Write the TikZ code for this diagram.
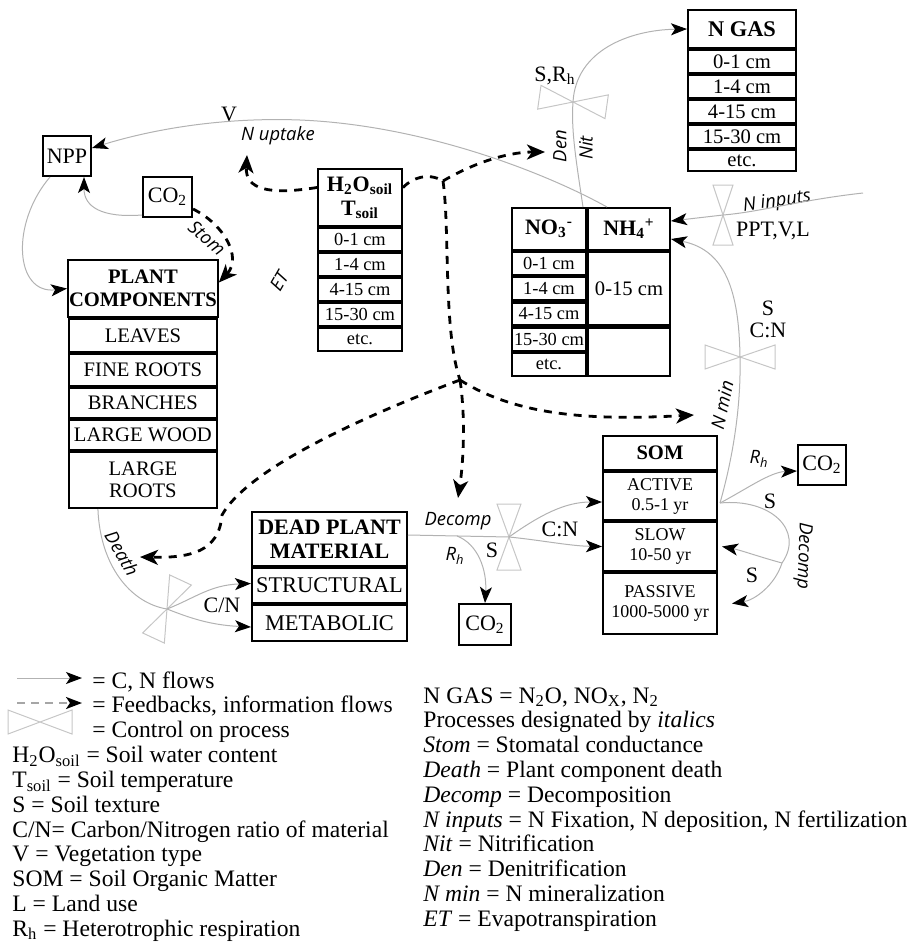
\documentclass[tikz,border=0pt]{standalone}
\usepackage{fontspec}
\setmainfont{Liberation Serif}
\newfontfamily\procfont{Open Sans}
\usepackage{tikz}
\usetikzlibrary{positioning,arrows.meta,calc}
\tikzstyle{cell} = [rectangle, draw, line width=1.1pt, inner sep=0.5pt, %
   text centered, align=center, font=\fontsize{10.3}{11.2}\selectfont]
\tikzstyle{head} = [cell, font=\bfseries\fontsize{10.3}{11.5}\selectfont]
\tikzstyle{depth} = [cell, font=\fontsize{9.2}{10}\selectfont]
\tikzstyle{somcell} = [cell, font=\fontsize{9}{10}\selectfont]
\tikzstyle{box} = [cell, font=\fontsize{11}{12}\selectfont]
\tikzstyle{grayline} = [draw, gray!60, line width=0.5pt]
\tikzstyle{flow} = [grayline, -{Stealth[black, length=8pt, width=6pt, inset=2pt]}]
\tikzstyle{fbline} = [draw, black, line width=1.4pt, dash pattern=on 4pt off 3.5pt]
\tikzstyle{feedback} = [fbline, -{Stealth[length=9pt, width=7.5pt, inset=2.5pt]}]
\tikzstyle{keydash} = [draw, gray!70, line width=1pt, dash pattern=on 4pt off 3pt, %
   -{Stealth[black, length=8pt, width=6pt, inset=2pt]}]
\tikzstyle{valveline} = [draw, gray!45, line width=0.5pt]
\tikzstyle{proc} = [inner sep=1pt, font=\procfont\itshape\fontsize{9.2}{10}\selectfont]
\tikzstyle{ctrl} = [inner sep=1pt, font=\fontsize{11}{12}\selectfont]
\tikzstyle{key} = [inner sep=0pt, anchor=north west, align=left, %
   font=\fontsize{11.8}{12.4}\selectfont]
\newcommand{\valve}[4]{%
   \path[valveline, shift={#1}, rotate=#2] (-#3,-#4) -- (#3,#4) -- (#3,-#4) -- (-#3,#4) -- cycle;}

\begin{document}
\begin{tikzpicture}[x=0.5pt, y=-0.5pt]
   \useasboundingbox (0,0) rectangle (911,943);

% Plant side %%%%%%%%%%%%%%%%%%%%%%%%%%%%%%%%%%%%%%%%%%%%%%%%%%%%%%%%%
   \node[box, minimum width=23.9pt, minimum height=19.9pt, anchor=north west](NPP) at (42,135){NPP};
   \node[box, minimum width=24.4pt, minimum height=19.9pt, anchor=north west](CO2air) at (142,176){CO\textsubscript{2}};

   \node[head, minimum width=73.9pt, minimum height=28.4pt, anchor=north west](plant) at (67,259){%
      PLANT\\COMPONENTS};
   \node[cell, minimum width=73.9pt, minimum height=16.4pt, below=0pt of plant](leaves){LEAVES};
   \node[cell, minimum width=73.9pt, minimum height=15.9pt, below=0pt of leaves](fineroots){FINE ROOTS};
   \node[cell, minimum width=73.9pt, minimum height=14.9pt, below=0pt of fineroots](branches){BRANCHES};
   \node[cell, minimum width=73.9pt, minimum height=14.9pt, below=0pt of branches](wood){LARGE WOOD};
   \node[cell, minimum width=73.9pt, minimum height=27.9pt, below=0pt of wood](largeroots){LARGE\\ROOTS};

% Soil water and temperature %%%%%%%%%%%%%%%%%%%%%%%%%%%%%%%%%%%%%%%%%
   \node[head, minimum width=41.9pt, minimum height=28.4pt, anchor=north west, %
      font=\bfseries\fontsize{11}{12}\selectfont](soil) at (317,168){%
      H\textsubscript{2}O\textsubscript{soil}\\T\textsubscript{soil}};
   \node[depth, minimum width=41.9pt, minimum height=11.4pt, below=0pt of soil](soilA){0-1 cm};
   \node[depth, minimum width=41.9pt, minimum height=11.4pt, below=0pt of soilA](soilB){1-4 cm};
   \node[depth, minimum width=41.9pt, minimum height=11.4pt, below=0pt of soilB](soilC){4-15 cm};
   \node[depth, minimum width=41.9pt, minimum height=11.4pt, below=0pt of soilC](soilD){15-30 cm};
   \node[depth, minimum width=41.9pt, minimum height=11.4pt, below=0pt of soilD](soilE){etc.};

% Mineral N %%%%%%%%%%%%%%%%%%%%%%%%%%%%%%%%%%%%%%%%%%%%%%%%%%%%%%%%%%
   \node[head, minimum width=36.9pt, minimum height=20.9pt, anchor=north west, %
      font=\bfseries\fontsize{11}{12}\selectfont](no3) at (511,207){NO\textsubscript{3}\textsuperscript{-}};
   \node[head, minimum width=40.9pt, minimum height=20.9pt, right=0pt of no3, %
      font=\bfseries\fontsize{11}{12}\selectfont](nh4){NH\textsubscript{4}\textsuperscript{+}};
   \node[depth, minimum width=36.9pt, minimum height=11.5pt, below=0pt of no3](no3A){0-1 cm};
   \node[depth, minimum width=36.9pt, minimum height=11.5pt, below=0pt of no3A](no3B){1-4 cm};
   \node[depth, minimum width=36.9pt, minimum height=11.5pt, below=0pt of no3B](no3C){4-15 cm};
   \node[depth, minimum width=36.9pt, minimum height=11.5pt, below=0pt of no3C](no3D){15-30 cm};
   \node[depth, minimum width=36.9pt, minimum height=11.5pt, below=0pt of no3D](no3E){etc.};
   \node[cell, minimum width=40.9pt, minimum height=36.7pt, below=0pt of nh4](nh4A){0-15 cm};
   \node[cell, minimum width=40.9pt, minimum height=24.1pt, below=0pt of nh4A](nh4B){};

% N gas %%%%%%%%%%%%%%%%%%%%%%%%%%%%%%%%%%%%%%%%%%%%%%%%%%%%%%%%%%%%%%
   \node[head, minimum width=53.9pt, minimum height=18.9pt, anchor=north west, %
      font=\bfseries\fontsize{11.2}{12}\selectfont](ngas) at (687,9){N GAS};
   \node[cell, minimum width=53.9pt, minimum height=11.4pt, below=0pt of ngas](ngasA){0-1 cm};
   \node[cell, minimum width=53.9pt, minimum height=11.4pt, below=0pt of ngasA](ngasB){1-4 cm};
   \node[cell, minimum width=53.9pt, minimum height=11.4pt, below=0pt of ngasB](ngasC){4-15 cm};
   \node[cell, minimum width=53.9pt, minimum height=11.4pt, below=0pt of ngasC](ngasD){15-30 cm};
   \node[cell, minimum width=53.9pt, minimum height=10.4pt, below=0pt of ngasD](ngasE){etc.};

% SOM %%%%%%%%%%%%%%%%%%%%%%%%%%%%%%%%%%%%%%%%%%%%%%%%%%%%%%%%%%%%%%%%
   \node[head, minimum width=56.9pt, minimum height=16.9pt, anchor=north west](som) at (602,435){SOM};
   \node[somcell, minimum width=56.9pt, minimum height=23.9pt, below=0pt of som](active){ACTIVE\\0.5-1 yr};
   \node[somcell, minimum width=56.9pt, minimum height=24.4pt, below=0pt of active](slow){SLOW\\10-50 yr};
   \node[somcell, minimum width=56.9pt, minimum height=30.4pt, below=0pt of slow](passive){PASSIVE\\1000-5000 yr};
   \node[box, minimum width=23.9pt, minimum height=19.9pt, anchor=north west](CO2soil) at (797,444){CO\textsubscript{2}};

% Dead plant material %%%%%%%%%%%%%%%%%%%%%%%%%%%%%%%%%%%%%%%%%%%%%%%%
   \node[head, minimum width=77.4pt, minimum height=26.9pt, anchor=north west, %
      font=\bfseries\fontsize{11}{12}\selectfont](dead) at (251,511){DEAD PLANT\\MATERIAL};
   \node[cell, minimum width=77.4pt, minimum height=17.4pt, below=0pt of dead, %
      font=\fontsize{11.2}{12}\selectfont](structural){STRUCTURAL};
   \node[cell, minimum width=77.4pt, minimum height=17.9pt, below=0pt of structural, %
      font=\fontsize{11.2}{12}\selectfont](metabolic){METABOLIC};
   \node[box, minimum width=25.9pt, minimum height=20.4pt, anchor=north west](CO2dead) at (458,603){CO\textsubscript{2}};

% Controls on process %%%%%%%%%%%%%%%%%%%%%%%%%%%%%%%%%%%%%%%%%%%%%%%%
   \coordinate (vDen) at (573,102);
   \coordinate (vNin) at (723,215);
   \coordinate (vNmin) at (740,357);
   \coordinate (vDec) at (509,537);
   \coordinate (vCN) at (167,609);
   \valve{(573,102)}{-8}{34}{12}
   \valve{(723,215)}{90}{30}{10}
   \valve{(740,357)}{0}{35}{12}
   \valve{(509,537)}{90}{33}{12}
   \valve{(167,609)}{65}{32}{12}

% Free ends and junctions
   \coordinate (ninSrc) at (863,193);
   \coordinate (somOut) at (720,503);
   \coordinate (decSplit) at (782,563);
   \coordinate (rhSplit) at (457,536);
   \coordinate (fbSplit) at (443,181);
   \coordinate (fbHub) at (460,380);
   \coordinate (fbNup) at (247,155);
   \coordinate (fbDen) at (545,152);
   \coordinate (fbNmin) at (694,415);
   \coordinate (fbDec) at (458,498);
   \coordinate (fbDeath) at (140,557);

% Labels %%%%%%%%%%%%%%%%%%%%%%%%%%%%%%%%%%%%%%%%%%%%%%%%%%%%%%%%%%%%%
   \node[ctrl](Vlbl) at (229,114){V};
   \node[proc](Nuptake) at (278,136){N uptake};
   \node[proc, rotate=-40](Stom) at (207,238){Stom};
   \node[proc, rotate=60](ET) at (279,281){ET};
   \node[ctrl](SRh) at (555,76){S,R\textsubscript{h}};
   \node[proc, rotate=90](Den) at (560,146){Den};
   \node[proc, rotate=90](Nit) at (586,148){Nit};
   \node[proc, rotate=8](Ninputs) at (777,202){N inputs};
   \node[ctrl](PPT) at (773,231){PPT,V,L};
   \node[ctrl](Snmin) at (768,308){S};
   \node[ctrl](CNnmin) at (768,330){C:N};
   \node[proc, rotate=78](Nmin) at (722,405){N min};
   \node[proc](Rhsom) at (759,459){R\textsubscript{h}};
   \node[ctrl](Ssom) at (770,501){S};
   \node[ctrl](Sslow) at (752,575){S};
   \node[proc, rotate=-92](Decsom) at (803,556){Decomp};
   \node[proc](Decdead) at (458,521){Decomp};
   \node[ctrl](CNdead) at (560,529){C:N};
   \node[ctrl](Sdead) at (492,550){S};
   \node[proc](Rhdead) at (455,556){R\textsubscript{h}};
   \node[proc, rotate=-60](Death) at (122,553){Death};
   \node[ctrl](CNplant) at (222,605){C/N};

% Key %%%%%%%%%%%%%%%%%%%%%%%%%%%%%%%%%%%%%%%%%%%%%%%%%%%%%%%%%%%%%%%%
   \coordinate (keyFlowA) at (17,678);
   \coordinate (keyFlowB) at (82,678);
   \coordinate (keyFbA) at (17,703);
   \coordinate (keyFbB) at (82,703);
   \valve{(40,722)}{0}{32}{12}
   \node[key](keyTop) at (92,671){= C, N flows\\= Feedbacks, information flows\\= Control on process};
   \node[key](keyLeft) at (12,746){%
      H\textsubscript{2}O\textsubscript{soil} = Soil water content\\
      T\textsubscript{soil} = Soil temperature\\
      S = Soil texture\\
      C/N= Carbon/Nitrogen ratio of material\\
      V = Vegetation type\\
      SOM = Soil Organic Matter\\
      L = Land use\\
      R\textsubscript{h} = Heterotrophic respiration};
   \node[key](keyRight) at (423,687){%
      N GAS = N\textsubscript{2}O, NO\textsubscript{X}, N\textsubscript{2}\\
      Processes designated by \textit{italics}\\
      \textit{Stom} = Stomatal conductance\\
      \textit{Death} = Plant component death\\
      \textit{Decomp} = Decomposition\\
      \textit{N inputs} = N Fixation, N deposition, N fertilization\\
      \textit{Nit} = Nitrification\\
      \textit{Den} = Denitrification\\
      \textit{N min} = N mineralization\\
      \textit{ET} = Evapotranspiration};

   % Draw edges
   % Carbon uptake
   \path [flow] ([xshift=4pt]NPP.south west) .. controls +(-40,47) and +(-52,6) .. (plant.west);
   \path [flow] ([yshift=-9pt]CO2air.west) .. controls +(-40,3) and +(0,30) .. ([xshift=-4pt]NPP.south east);

   % N uptake
   \path [flow] ([xshift=10pt]nh4.north west) .. controls (540,170) and (420,125) .. (300,120) %
      .. controls (220,117) and (150,130) .. ([yshift=4pt]NPP.east);

   % Nitrification, denitrification
   \path [flow] ([xshift=-2pt]no3.north east) .. controls (576,160) and (571,130) .. (vDen) %
      .. controls (576,50) and (630,30) .. (ngas.west);

   % N inputs
   \path [flow] (ninSrc) .. controls (800,200) and (760,212) .. (vNin) -- ([yshift=4pt]nh4.east);

   % N mineralization
   \path [flow] (somOut) .. controls (735,450) and (741,400) .. (vNmin) %
      .. controls (739,290) and (725,250) .. ([yshift=-5pt]nh4.east);

   % SOM respiration and decomposition
   \path [flow] (somOut) .. controls (745,490) and (770,472) .. ([yshift=-3pt]CO2soil.west);
   \path [grayline] (somOut) .. controls (770,498) and (805,530) .. (decSplit);
   \path [flow] (decSplit) .. controls (760,557) and (740,550) .. ([xshift=2pt]slow.east);
   \path [flow] (decSplit) .. controls (775,585) and (755,600) .. ([xshift=7pt]passive.east);

   % Litter decomposition
   \path [grayline] ([yshift=2pt]dead.east) -- (vDec);
   \path [flow] (vDec) .. controls (540,540) and (570,546) .. (slow.west);
   \path [flow] (vDec) .. controls (540,515) and (565,502) .. ([yshift=-3pt]active.west);
   \path [flow] (rhSplit) .. controls (478,544) and (487,570) .. (CO2dead.north);

   % Death
   \path [grayline] ([xshift=15pt]largeroots.south west) .. controls (100,565) and (130,603) .. (vCN);
   \path [flow] (vCN) .. controls (195,598) and (210,585) .. ([yshift=1pt]structural.west);
   \path [flow] (vCN) .. controls (190,618) and (210,625) .. ([yshift=-2pt]metabolic.west);

   % Feedbacks
   \path [feedback] ([yshift=5pt]soil.west) .. controls (270,195) and (245,190) .. (fbNup);
   \path [feedback] ([yshift=-6pt]CO2air.east) .. controls (225,225) and (242,258) .. ([yshift=3pt]plant.east);
   \path [fbline] ([yshift=5pt]soil.east) .. controls (412,178) and (428,172) .. (fbSplit);
   \path [feedback] (fbSplit) .. controls (470,165) and (505,152) .. (fbDen);
   \path [fbline] (fbSplit) .. controls (450,230) and (443,330) .. (fbHub);
   \path [feedback] (fbHub) .. controls (520,418) and (600,420) .. (fbNmin);
   \path [feedback] (fbHub) .. controls (466,420) and (463,465) .. (fbDec);
   \path [feedback] (fbHub) .. controls (380,410) and (250,465) .. (222,515) %
      .. controls (219,552) and (190,558) .. (fbDeath);

   % Key
   \path [flow] (keyFlowA) -- (keyFlowB);
   \path [keydash] (keyFbA) -- (keyFbB);

\end{tikzpicture}
\end{document}
